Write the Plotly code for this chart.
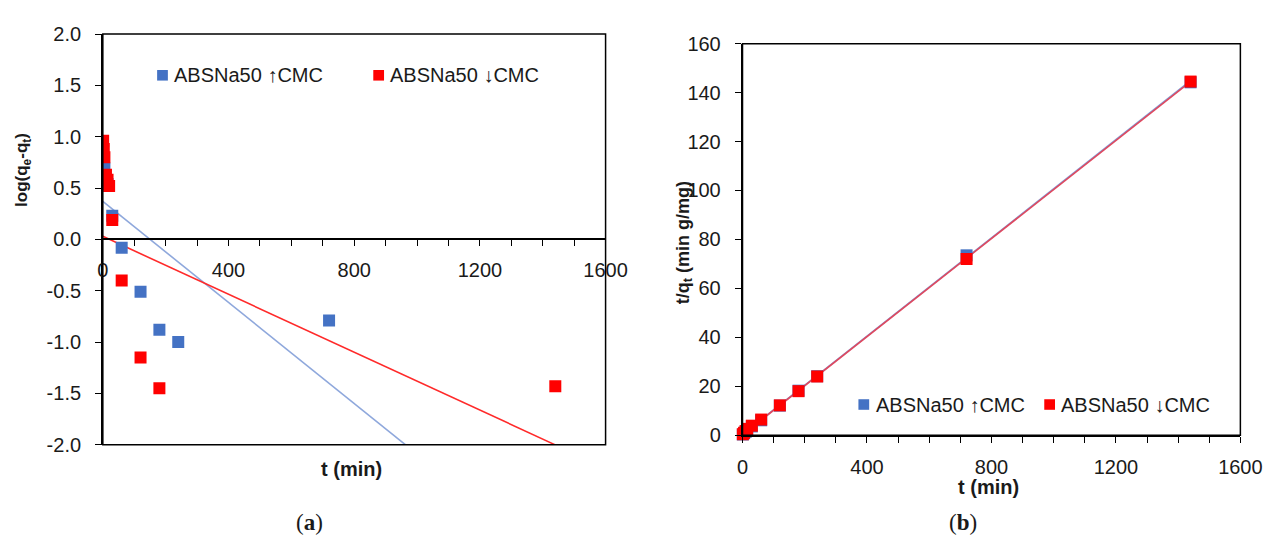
import numpy as np
import plotly.graph_objects as go

W, H = 1279, 547

# ---------------- data ----------------
series_names = ["ABSNa50 \u2191CMC", "ABSNa50 \u2193CMC"]
series_colors = ["#4472C4", "#FF0000"]

# Panel (a): pseudo-first-order, log(qe-qt) vs t
a_blue_t = [5, 15, 30, 60, 120, 180, 240, 720]
a_blue_y = [0.69, 0.54, 0.23, -0.08, -0.51, -0.88, -1.00, -0.79]
a_red_t = [1, 3, 5, 10, 15, 20, 30, 60, 120, 180, 1440]
a_red_y = [0.96, 0.88, 0.80, 0.63, 0.58, 0.52, 0.19, -0.40, -1.15, -1.45, -1.43]
a_fit_intercept = [0.37, 0.03]
a_fit_slope = [-0.00246, -0.00141]

# Panel (b): pseudo-second-order, t/qt vs t
b_blue_t = [1, 5, 10, 15, 30, 60, 120, 180, 240, 720, 1440]
b_blue_y = [0.3, 0.8, 1.4, 2.0, 3.6, 6.1, 12.1, 18.2, 24.1, 73.5, 144.2]
b_red_t = [1, 5, 10, 15, 30, 60, 120, 180, 240, 720, 1440]
b_red_y = [0.4, 1.0, 1.7, 2.6, 3.9, 6.4, 12.2, 18.0, 24.0, 72.0, 144.5]
b_fit_intercept = [0.3, 0.2]
b_fit_slope = [0.1004, 0.1002]

fit_t_range = [0, 1440]

x_major_ticks = [0, 400, 800, 1200, 1600]
x_minor_step = 100
a_yticks = [-2.0, -1.5, -1.0, -0.5, 0.0, 0.5, 1.0, 1.5, 2.0]
b_yticks = list(range(0, 161, 20))

# ---------------- figure ----------------
FONT = "Liberation Sans, Arial, sans-serif"
SERIF = "Liberation Serif, Times New Roman, serif"
TXT = "#1a1a1a"
fig = go.Figure()

def px_x(p):
    return p / W

def px_y(p):
    return 1 - p / H

tline = np.linspace(fit_t_range[0], fit_t_range[1], 50)
line_cols_a = ["#8FA8DC", "#FF2A2A"]
line_cols_b = ["#7F9CD6", "#E0485E"]
MS = 12

# Panel a
for i in range(2):
    fig.add_trace(go.Scatter(x=tline, y=a_fit_intercept[i] + a_fit_slope[i] * tline,
                             mode="lines", line=dict(color=line_cols_a[i], width=1.6),
                             xaxis="x", yaxis="y", showlegend=False, hoverinfo="skip"))
fig.add_trace(go.Scatter(x=a_blue_t, y=a_blue_y, mode="markers", name=series_names[0],
                         marker=dict(symbol="square", size=MS, color=series_colors[0]),
                         xaxis="x", yaxis="y", showlegend=False))
fig.add_trace(go.Scatter(x=a_red_t, y=a_red_y, mode="markers", name=series_names[1],
                         marker=dict(symbol="square", size=MS, color=series_colors[1]),
                         xaxis="x", yaxis="y", showlegend=False))

# Panel b
for i in range(2):
    fig.add_trace(go.Scatter(x=tline, y=b_fit_intercept[i] + b_fit_slope[i] * tline,
                             mode="lines", line=dict(color=line_cols_b[i], width=1.6),
                             xaxis="x2", yaxis="y2", showlegend=False, hoverinfo="skip"))
fig.add_trace(go.Scatter(x=b_blue_t, y=b_blue_y, mode="markers", name=series_names[0],
                         marker=dict(symbol="square", size=MS, color=series_colors[0]),
                         xaxis="x2", yaxis="y2", showlegend=False, cliponaxis=False))
fig.add_trace(go.Scatter(x=b_red_t, y=b_red_y, mode="markers", name=series_names[1],
                         marker=dict(symbol="square", size=MS, color=series_colors[1]),
                         xaxis="x2", yaxis="y2", showlegend=False, cliponaxis=False))

a_x0, a_x1, a_y0, a_y1 = 99, 613, 24, 452
b_x0, b_x1, b_y0, b_y1 = 753, 1262, 34, 442
a_zero_py = a_y0 + (2.0 - 0.0) / 4.0 * (a_y1 - a_y0)

axis_common = dict(showgrid=False, zeroline=False, linecolor="#000000", linewidth=1.5,
                   ticks="outside", tickcolor="#000000", tickwidth=1.2, ticklen=6,
                   tickfont=dict(family=FONT, size=20, color=TXT))
minor_x = dict(dtick=x_minor_step, ticks="outside", ticklen=6, tickwidth=1.2,
               tickcolor="#000000", showgrid=False)

fig.update_layout(
    width=W, height=H, paper_bgcolor="white", plot_bgcolor="white",
    margin=dict(l=0, r=0, t=0, b=0), showlegend=False,
    xaxis=dict(domain=[px_x(a_x0), px_x(a_x1)], range=[0, 1600], anchor="free",
               position=px_y(a_zero_py), showline=True,
               tickmode="array", tickvals=x_major_ticks,
               ticktext=[str(v) for v in x_major_ticks], minor=minor_x,
               ticklabelstandoff=7, **axis_common),
    yaxis=dict(domain=[px_y(a_y1), px_y(a_y0)], range=[-2.0, 2.0], anchor="x",
               showline=True, tickmode="array", tickvals=a_yticks,
               ticktext=[f"{v:.1f}" for v in a_yticks], ticklabelstandoff=10,
               **axis_common),
    xaxis2=dict(domain=[px_x(b_x0), px_x(b_x1)], range=[0, 1600], anchor="y2",
                showline=True, tickmode="array", tickvals=x_major_ticks,
                ticktext=[str(v) for v in x_major_ticks], minor=minor_x,
                ticklabelstandoff=7, **axis_common),
    yaxis2=dict(domain=[px_y(b_y1), px_y(b_y0)], range=[0, 160], anchor="x2",
                showline=True, tickmode="array", tickvals=b_yticks,
                ticktext=[str(v) for v in b_yticks], ticklabelstandoff=10,
                **axis_common),
)

shapes = []
# frames
for xr, yr in [("x domain", "y domain"), ("x2 domain", "y2 domain")]:
    shapes.append(dict(type="rect", xref=xr, yref=yr, x0=0, x1=1, y0=0, y1=1,
                       line=dict(color="#000000", width=1.5), fillcolor="rgba(0,0,0,0)",
                       layer="above"))

ann = []
def add_text(x, y, text, size=20, bold=False, angle=0, family=FONT, xanchor="center"):
    t = f"<b>{text}</b>" if bold else text
    ann.append(dict(x=px_x(x), y=px_y(y), xref="paper", yref="paper", text=t,
                    showarrow=False, textangle=angle, xanchor=xanchor, yanchor="middle",
                    font=dict(family=family, size=size, color=TXT)))

add_text(18, 166, "log(q<sub>e</sub>-q<sub>t</sub>)", size=17, bold=True, angle=-90)
add_text(353, 477, "t (min)", size=20, bold=True)
add_text(693, 241, "t/q<sub>t</sub> (min g/mg)", size=18, bold=True, angle=-90)
add_text(1004, 496, "t (min)", size=20, bold=True)
add_text(310, 533, "(<b>a</b>)", size=23, family=SERIF)
add_text(978, 533, "(<b>b</b>)", size=23, family=SERIF)

def legend_item(mx, y, name, color):
    shapes.append(dict(type="rect", xref="paper", yref="paper",
                       x0=px_x(mx - 5.5), x1=px_x(mx + 5.5), y0=px_y(y + 5.5), y1=px_y(y - 5.5),
                       line=dict(width=0), fillcolor=color))
    ann.append(dict(x=px_x(mx + 10), y=px_y(y), xref="paper", yref="paper",
                    text=name, showarrow=False, xanchor="left", yanchor="middle",
                    font=dict(family=FONT, size=20, color=TXT)))

legend_item(160, 67, series_names[0], series_colors[0])
legend_item(381, 67, series_names[1], series_colors[1])
legend_item(877, 410, series_names[0], series_colors[0])
legend_item(1067, 410, series_names[1], series_colors[1])

fig.update_layout(annotations=ann, shapes=shapes)
fig.write_html("out.html")
